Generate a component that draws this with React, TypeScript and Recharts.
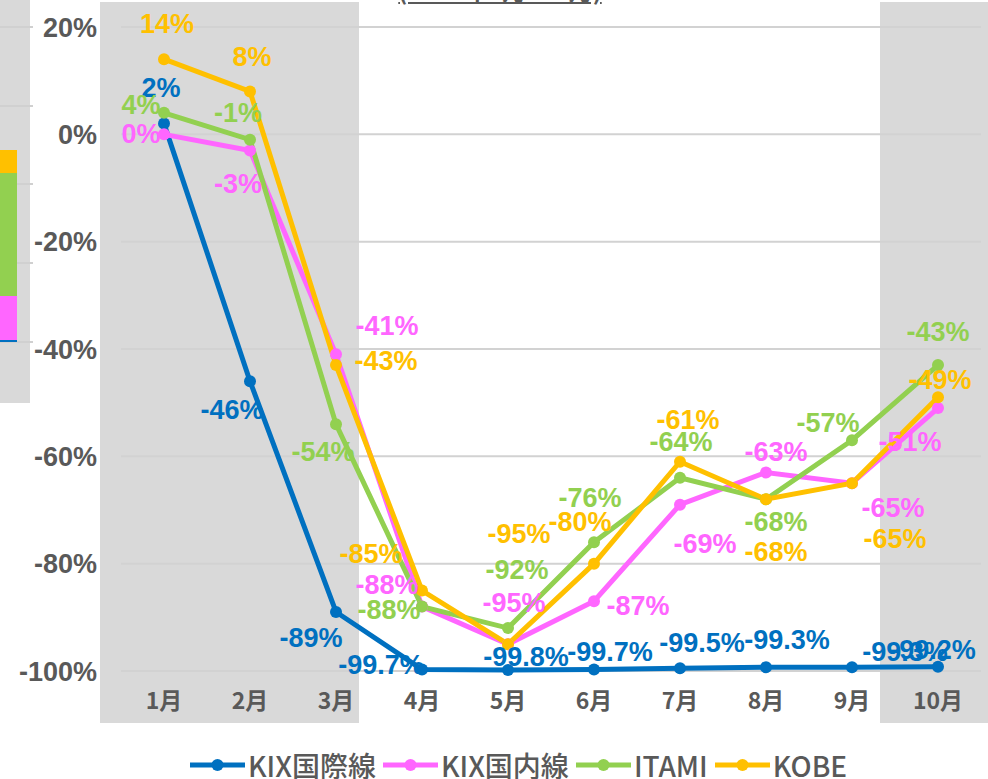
import React from 'react';
import { LineChart, Line, XAxis, YAxis, CartesianGrid, Legend, LabelList } from 'recharts';

const months = ['1月', '2月', '3月', '4月', '5月', '6月', '7月', '8月', '9月', '10月'];
const kixIntl = [2, -46, -89, -99.7, -99.8, -99.7, -99.5, -99.3, -99.3, -99.2];
const kixDom = [0, -3, -41, -88, -95, -87, -69, -63, -65, -51];
const itami = [4, -1, -54, -88, -92, -76, -64, -68, -57, -43];
const kobe = [14, 8, -43, -85, -95, -80, -61, -68, -65, -49];
const yTicks = [-100, -80, -60, -40, -20, 0, 20];

// label nudges (dx, dy from the point to the text centre), as placed in the original
const intlLabelPos = [[-3, -36], [-18, 29], [-25, 26], [-41, -4], [18, -13], [16, -17], [22, -25], [21, -27], [53, -15], [-5, -17]];
const domLabelPos = [[-23, 0], [-12, 34], [51, -28], [-35, -22], [6, -41], [44, 5], [25, 39], [10, -20], [41, 25], [-28, 34]];
const itamiLabelPos = [[-23, -8], [-12, -27], [-13, 28], [-33, 3], [9, -58], [-4, -44], [1, -36], [10, 23], [-24, -17], [0, -33]];
const kobeLabelPos = [[3, -35], [2, -34], [50, -4], [-51, -37], [11, -110], [-14, -42], [8, -42], [10, 53], [43, 56], [2, -17]];

const data = months.map((m, i) => ({
  month: m,
  kixIntl: kixIntl[i],
  kixDom: kixDom[i],
  itami: itami[i],
  kobe: kobe[i],
}));

const series = [
  { key: 'kixIntl', name: 'KIX国際線', color: '#0070C0', pos: intlLabelPos },
  { key: 'kixDom', name: 'KIX国内線', color: '#FF66FF', pos: domLabelPos },
  { key: 'itami', name: 'ITAMI', color: '#92D050', pos: itamiLabelPos },
  { key: 'kobe', name: 'KOBE', color: '#FFC000', pos: kobeLabelPos },
];

const GRAY = '#D9D9D9';
const TEXT = '#595959';

const makeLabel = (color: string, pos: number[][]) => (props: any) => {
  const { x, y, value, index } = props;
  const [dx, dy] = pos[index] || [0, -20];
  return (
    <text
      x={x + dx}
      y={y + dy}
      textAnchor="middle"
      dominantBaseline="central"
      fill={color}
      fontSize={27}
      fontWeight="bold"
      fontFamily="'Liberation Sans', Arial, sans-serif"
    >
      {`${value}%`}
    </text>
  );
};

const LegendContent = () => (
  <div style={{ display: 'flex', alignItems: 'center', fontFamily: "'Noto Sans CJK JP', sans-serif" }}>
    {series.map(s => (
      <div key={s.key} style={{ display: 'flex', alignItems: 'center', marginRight: 7 }}>
        <svg width={55} height={20} style={{ marginRight: 3 }}>
          <line x1={0} y1={10} x2={55} y2={10} stroke={s.color} strokeWidth={5} />
          <circle cx={27.5} cy={10} r={6} fill={s.color} />
        </svg>
        <span style={{ color: TEXT, fontSize: 28, fontWeight: 500, lineHeight: '32px' }}>{s.name}</span>
      </div>
    ))}
  </div>
);

export default function App() {
  return (
    <div style={{ position: 'absolute', left: 0, top: 0, width: 988, height: 779, overflow: 'hidden', background: '#fff' }}>
      {/* cut-off neighbouring panel on the left */}
      <div style={{ position: 'absolute', left: 0, top: 0, width: 30, height: 403, background: GRAY }} />
      {[27, 106, 184, 263, 342].map(y => (
        <div key={y} style={{ position: 'absolute', left: 0, top: y - 1, width: 33, height: 2, background: '#d0d0d0' }} />
      ))}
      <div style={{ position: 'absolute', left: 0, top: 150, width: 17, height: 23, background: '#FFC000' }} />
      <div style={{ position: 'absolute', left: 0, top: 173, width: 17, height: 123, background: '#92D050' }} />
      <div style={{ position: 'absolute', left: 0, top: 296, width: 17, height: 44, background: '#FF66FF' }} />
      <div style={{ position: 'absolute', left: 0, top: 340, width: 17, height: 2, background: '#0070C0' }} />

      {/* shaded periods */}
      <div style={{ position: 'absolute', left: 100, top: 2, width: 259, height: 721, background: GRAY }} />
      <div style={{ position: 'absolute', left: 880, top: 2, width: 108, height: 721, background: GRAY }} />

      {/* title, cut off at the top */}
      <div
        style={{
          position: 'absolute', left: 372, top: -27, width: 256, textAlign: 'center',
          fontFamily: "'Noto Sans CJK JP', sans-serif", fontSize: 24, fontWeight: 'bold', color: TEXT,
          textDecoration: 'underline', lineHeight: '34px',
        }}
      >
        (2020年1月~10月)
      </div>

      <div style={{ position: 'absolute', left: 0, top: 0 }}>
        <LineChart width={988} height={779} data={data} margin={{ top: 27, right: 7, left: 21, bottom: 28 }}>
          <CartesianGrid vertical={false} stroke="#d2d2d2" strokeWidth={2} />
          <XAxis
            dataKey="month"
            axisLine={false}
            tickLine={false}
            height={40}
            tickMargin={16}
            padding={{ left: 43, right: 43 }}
            tick={{ fill: TEXT, fontSize: 23, fontWeight: 'bold', fontFamily: "'Noto Sans CJK JP', sans-serif" }}
            interval={0}
          />
          <YAxis
            width={100}
            domain={[-100, 20]}
            ticks={yTicks}
            axisLine={false}
            tickLine={false}
            tickMargin={18}
            tickFormatter={(v: number) => `${v}%`}
            tick={{ fill: TEXT, fontSize: 27, fontWeight: 'bold', fontFamily: "'Liberation Sans', Arial, sans-serif" }}
          />
          <Legend
            content={<LegendContent />}
            wrapperStyle={{ left: 190, top: 749, width: 'auto', height: 40 }}
          />
          {series.map(s => (
            <Line
              key={s.key}
              dataKey={s.key}
              name={s.name}
              stroke={s.color}
              strokeWidth={5}
              dot={{ r: 6, fill: s.color, stroke: s.color, strokeWidth: 0 }}
              activeDot={false}
              isAnimationActive={false}
            >
              <LabelList dataKey={s.key} content={makeLabel(s.color, s.pos)} />
            </Line>
          ))}
        </LineChart>
      </div>
    </div>
  );
}
